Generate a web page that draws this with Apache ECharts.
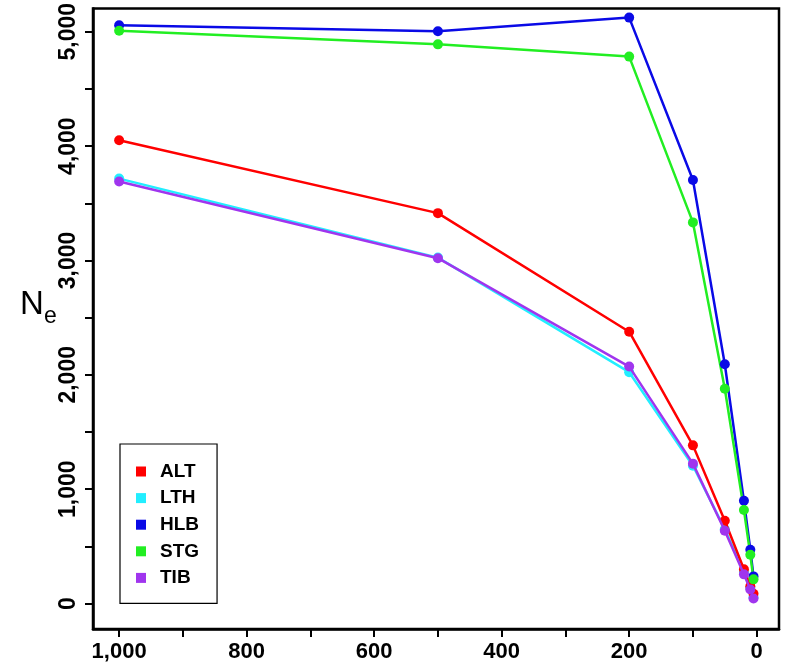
<!DOCTYPE html>
<html>
<head>
<meta charset="utf-8">
<script src="https://cdn.jsdelivr.net/npm/echarts@6/dist/echarts.min.js"></script>
<style>html,body{margin:0;padding:0;background:#fff}#c{width:787px;height:666px}</style>
</head>
<body>
<div id="c"></div>
<script>
var xValues = [1000, 500, 200, 100, 50, 20, 10, 5];
var ALT = [4052, 3414, 2377, 1383, 724, 300, 150, 85];
var LTH = [3716, 3025, 2023, 1205, 650, 275, 135, 55];
var HLB = [5057, 5005, 5124, 3704, 2092, 898, 470, 237];
var STG = [5009, 4890, 4783, 3333, 1878, 817, 426, 211];
var TIB = [3690, 3020, 2072, 1223, 637, 255, 122, 43];
var seriesNames = ['ALT', 'LTH', 'HLB', 'STG', 'TIB'];
var seriesData = [ALT, LTH, HLB, STG, TIB];
var seriesColors = ['#ff0000', '#22eeff', '#0a0ae6', '#22ee22', '#a035ee'];
var xTicks = [0, 100, 200, 300, 400, 500, 600, 700, 800, 900, 1000];
var xLabels = [0, 200, 400, 600, 800, 1000];
var yTicks = [0, 500, 1000, 1500, 2000, 2500, 3000, 3500, 4000, 4500, 5000];
var yLabels = [0, 1000, 2000, 3000, 4000, 5000];

function fmt(v) { return String(v).replace(/\B(?=(\d{3})+(?!\d))/g, ','); }

var chart = echarts.init(document.getElementById('c'));
var series = seriesNames.map(function (n, i) {
  return {
    name: n, type: 'line',
    data: xValues.map(function (x, j) { return [x, seriesData[i][j]]; }),
    symbol: 'circle', symbolSize: 10,
    lineStyle: { width: 2.5, color: seriesColors[i] },
    itemStyle: { color: seriesColors[i] },
    z: [2, 1, 2, 2, 3][i]
  };
});
var lblFont = 'Liberation Sans, Arial, sans-serif';
chart.setOption({
  animation: false,
  backgroundColor: '#fff',
  grid: { left: 93, right: 8, top: 5, bottom: 37, show: true, borderColor: '#000', borderWidth: 2.5 },
  legend: {
    left: 120, top: 444,
    orient: 'vertical', itemGap: 7.6, padding: [18, 18, 16, 16],
    borderColor: '#000', borderWidth: 1.2,
    icon: 'rect', itemWidth: 10, itemHeight: 10,
    data: seriesNames,
    textStyle: { fontFamily: lblFont, fontWeight: 'bold', fontSize: 19, color: '#000', padding: [0, 0, 0, 9] }
  },
  xAxis: {
    type: 'value', inverse: true, min: -35, max: 1041,
    axisLine: { show: true, onZero: false, lineStyle: { color: '#000', width: 2.5 } },
    axisTick: { show: true, length: 8, lineStyle: { color: '#000', width: 2 }, customValues: xTicks },
    axisLabel: { customValues: xLabels, formatter: function (v) { return fmt(v); }, margin: 12,
      fontFamily: lblFont, fontWeight: 'bold', fontSize: 22, color: '#000' },
    splitLine: { show: false }
  },
  yAxis: {
    type: 'value', min: -223, max: 5203,
    axisLine: { show: true, onZero: false, lineStyle: { color: '#000', width: 2.5 } },
    axisTick: { show: true, length: 8, lineStyle: { color: '#000', width: 2 }, customValues: yTicks },
    axisLabel: { customValues: yLabels, rotate: 90, formatter: function (v) { return fmt(v); }, margin: 13,
      fontFamily: lblFont, fontWeight: 'bold', fontSize: 23, color: '#000' },
    splitLine: { show: false }
  },
  graphic: [
    { type: 'text', left: 20, top: 288, style: { text: 'N', fontSize: 33, fontFamily: lblFont, fill: '#000' } },
    { type: 'text', left: 44, top: 305, style: { text: 'e', fontSize: 23, fontFamily: lblFont, fill: '#000' } }
  ],
  series: series
});
</script>
</body>
</html>
